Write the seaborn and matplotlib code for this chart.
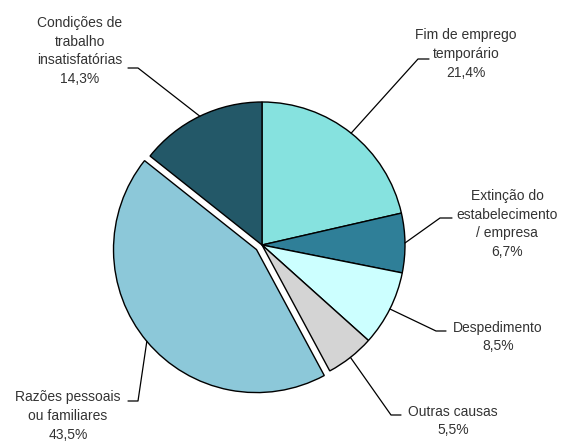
import matplotlib
matplotlib.use('Agg')
import matplotlib.pyplot as plt
import numpy as np
import seaborn as sns

# data
categories = ['Fim de emprego\ntemporário',
              'Extinção do\nestabelecimento\n/ empresa',
              'Despedimento',
              'Outras causas',
              'Razões pessoais\nou familiares',
              'Condições de\ntrabalho\ninsatisfatórias']
values = [21.4, 6.7, 8.5, 5.5, 43.5, 14.3]
colors = ['#86E2DF', '#2F7F98', '#CCFFFF', '#D4D4D4', '#8CC8D9', '#235868']
explode = [0, 0, 0, 0, 0.05, 0]

sns.set_style('white')
plt.rcParams['font.family'] = ['Liberation Sans', 'DejaVu Sans']

W, H = 562, 443
fig = plt.figure(figsize=(W / 100, H / 100), dpi=100)
ax = fig.add_axes([0, 0, 1, 1])

# pie centre and radius in pixels
cx, cy, R = 262, 245, 143

def px(x, y):
    return (x - cx) / R, (cy - y) / R

wedges, _ = ax.pie(values, colors=colors, explode=explode, startangle=90,
                   counterclock=False, radius=1,
                   wedgeprops=dict(edgecolor='black', linewidth=1))

ax.set_xlim(-cx / R, (W - cx) / R)
ax.set_ylim(-(H - cy) / R, cy / R)
ax.set_aspect('equal')
ax.axis('off')

# label placement: text centre, horizontal segment (outer end, knee)
text_pos = [(466, 54), (507, 224), (498, 337), (453, 421), (68, 416), (80, 51)]
seg = [((429, 59), (418, 59)),
       ((452, 218), (440, 218)),
       ((446, 331), (436, 331)),
       ((401, 415), (391, 415)),
       ((128, 401), (138, 401)),
       ((128, 68), (138, 68))]

for w, lab, v, tp, (p0, p1) in zip(wedges, categories, values, text_pos, seg):
    ang = np.deg2rad((w.theta1 + w.theta2) / 2)
    ox, oy = w.center
    ax_, ay_ = ox + w.r * np.cos(ang), oy + w.r * np.sin(ang)
    x0, y0 = px(*p0)
    x1, y1 = px(*p1)
    ax.plot([x0, x1, ax_], [y0, y1, ay_], color='black', lw=0.9)
    txt = lab + '\n' + f'{v:.1f}'.replace('.', ',') + '%'
    tx, ty = px(*tp)
    ax.text(tx, ty, txt, ha='center', va='center', fontsize=10,
            color='#333333', linespacing=1.42)

plt.savefig('out.png', dpi=100)
